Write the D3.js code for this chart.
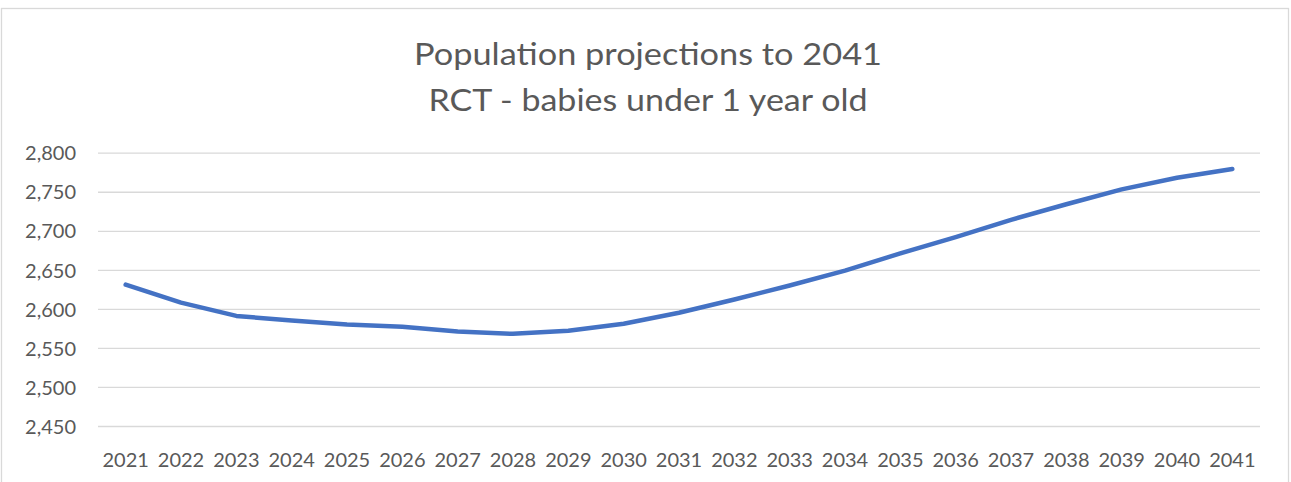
<!DOCTYPE html>
<html>
<head>
<meta charset="utf-8">
<script src="https://cdn.jsdelivr.net/npm/d3@7"></script>
<style>
  html, body { margin: 0; padding: 0; background: #fff; }
  svg { display: block; }
  text { font-family: Lato, "Open Sans", sans-serif; fill: #595959; }
</style>
</head>
<body>
<svg id="chart" width="1291" height="482"></svg>
<script>
const titleLines = ["Population projections to 2041", "RCT - babies under 1 year old"];
const years = ["2021","2022","2023","2024","2025","2026","2027","2028","2029","2030","2031",
               "2032","2033","2034","2035","2036","2037","2038","2039","2040","2041"];
const babies = [2631, 2608, 2591, 2585, 2580, 2577, 2571, 2568, 2572, 2581, 2595,
                2612, 2630, 2649, 2671, 2692, 2714, 2734, 2753, 2768, 2779];
const yTicks = [2450, 2500, 2550, 2600, 2650, 2700, 2750, 2800];

const svg = d3.select("#chart");
const plot = { left: 98, right: 1260, top: 152.7, bottom: 426 };

// chart border
svg.append("rect")
  .attr("x", 1.5).attr("y", 8.5)
  .attr("width", 1287).attr("height", 520)
  .attr("fill", "#fff").attr("stroke", "#d9d9d9").attr("stroke-width", 1.3);

// title
const titleWidths = [468, 439];
svg.append("g").selectAll("text")
  .data(titleLines)
  .join("text")
  .attr("x", 648)
  .attr("y", (d, i) => 64.5 + i * 46.4)
  .attr("text-anchor", "middle")
  .attr("font-size", 31)
  .attr("font-weight", 400)
  .attr("textLength", (d, i) => titleWidths[i])
  .attr("lengthAdjust", "spacingAndGlyphs")
  .text(d => d);

const x = d3.scaleBand().domain(years).range([plot.left, plot.right]).padding(0);
const y = d3.scaleLinear().domain([2450, 2800]).range([plot.bottom, plot.top]);

// gridlines
svg.append("g")
  .attr("transform", `translate(${plot.left},0)`)
  .call(d3.axisLeft(y).tickValues(yTicks).tickSize(-(plot.right - plot.left)).tickFormat(""))
  .call(g => g.select(".domain").remove())
  .call(g => g.selectAll(".tick line").attr("stroke", "#d9d9d9").attr("stroke-width", 1.3));

// y labels
svg.append("g")
  .attr("transform", `translate(76,0)`)
  .call(d3.axisLeft(y).tickValues(yTicks).tickSize(0).tickPadding(0).tickFormat(d3.format(",")))
  .call(g => g.select(".domain").remove())
  .call(g => g.selectAll(".tick text")
    .attr("x", 0).attr("dy", "0.36em")
    .attr("font-size", 20).attr("fill", "#595959")
    .style("font-family", "Lato, 'Open Sans', sans-serif"));

// x labels
svg.append("g")
  .attr("transform", `translate(0,${plot.bottom})`)
  .call(d3.axisBottom(x).tickSize(0).tickPadding(0))
  .call(g => g.select(".domain").remove())
  .call(g => g.selectAll(".tick text")
    .attr("y", 41).attr("dy", 0)
    .attr("font-size", 20).attr("fill", "#595959")
    .style("font-family", "Lato, 'Open Sans', sans-serif"));

// line
const line = d3.line()
  .x((d, i) => x(years[i]) + x.bandwidth() / 2)
  .y(d => y(d))
  .curve(d3.curveLinear);

svg.append("path")
  .datum(babies)
  .attr("d", line)
  .attr("fill", "none")
  .attr("stroke", "#4472C4")
  .attr("stroke-width", 4.5)
  .attr("stroke-linecap", "round")
  .attr("stroke-linejoin", "round");
</script>
</body>
</html>
